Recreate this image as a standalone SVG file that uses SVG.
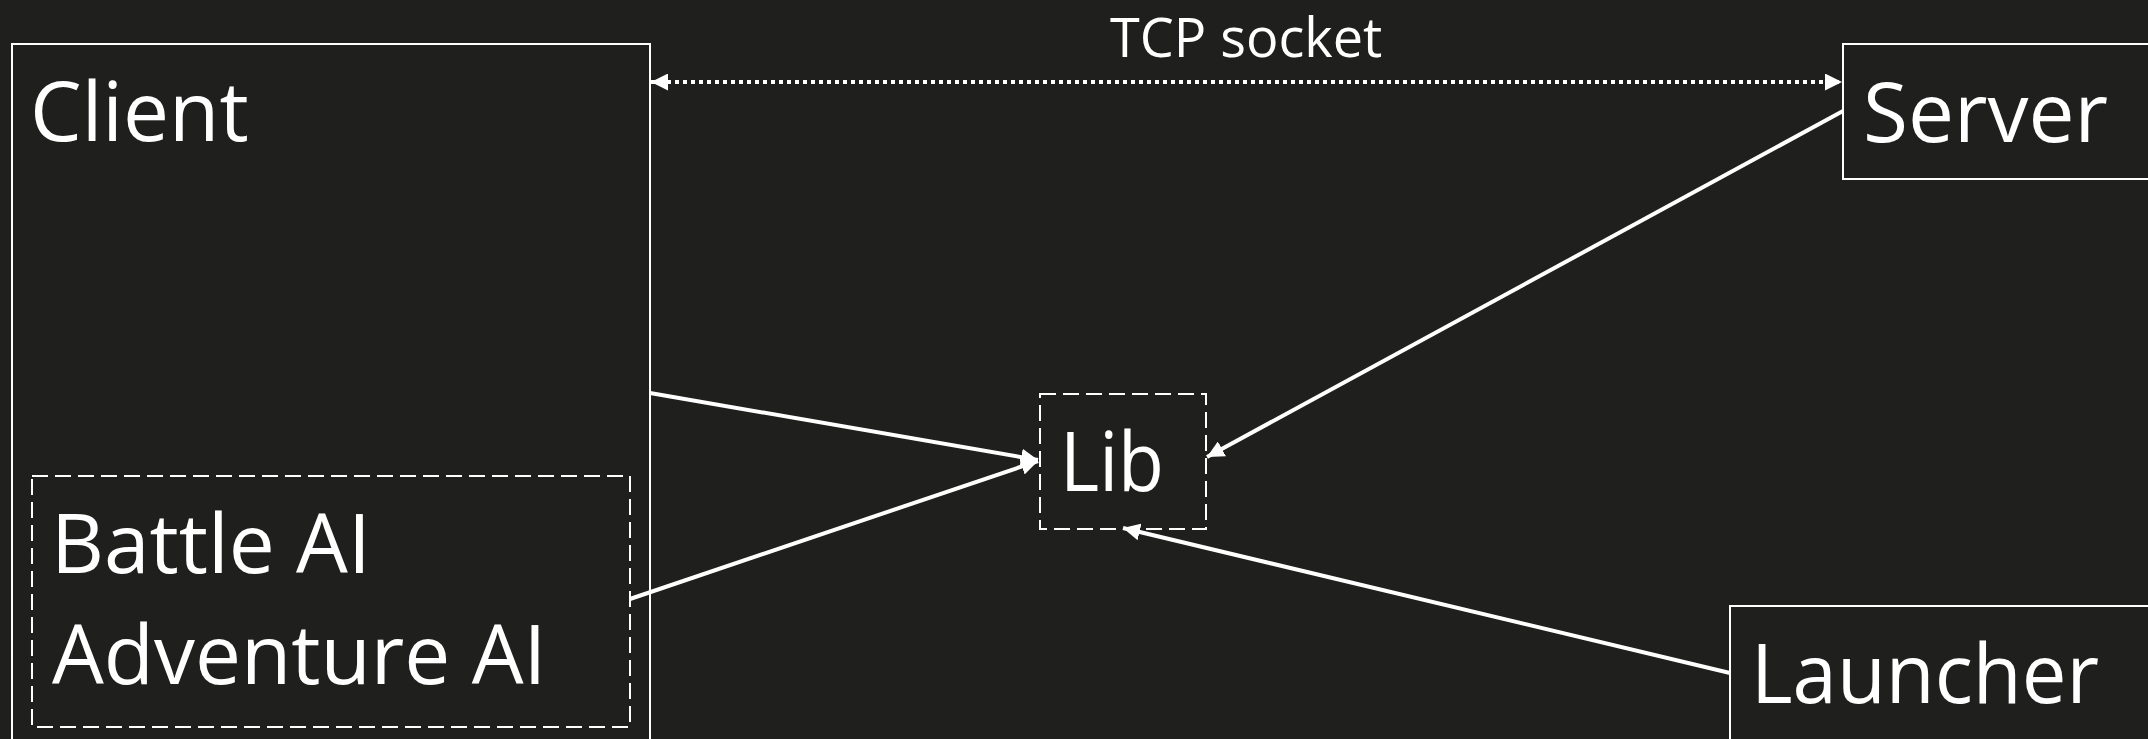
<svg xmlns="http://www.w3.org/2000/svg" width="2148" height="739" viewBox="0 0 2148 739">
  <defs>
    <marker id="arrow" viewBox="0 0 16 16" markerWidth="17" markerHeight="17" refX="16" refY="8" markerUnits="userSpaceOnUse" orient="auto-start-reverse">
      <path d="M0,0 L16,8 L0,16 z" fill="#ffffff"/>
    </marker>
    <style>
      .bg { fill: #1f1f1e; }
      .box { fill: none; stroke: #ffffff; stroke-width: 2; }
      .dbox { fill: none; stroke: #ffffff; stroke-width: 2; stroke-dasharray: 16 7; }
      .lbl { font-family: "Open Sans", "Liberation Sans", sans-serif; fill: #ffffff; font-size: 82px; }
      .small { font-size: 54px; }
      .conn { fill: none; stroke: #ffffff; stroke-width: 4; marker-end: url(#arrow); }
      .dotted { stroke-dasharray: 4 4; marker-start: url(#arrow); }
    </style>
  </defs>
  <rect class="bg" x="0" y="0" width="2148" height="739"/>

  <g id="client">
    <rect class="box" x="12" y="44" width="638" height="720"/>
    <text class="lbl" x="30" y="141">Client</text>
  </g>

  <g id="ai">
    <rect class="dbox" x="32" y="476" width="598" height="251"/>
    <text class="lbl" x="51" y="573">Battle AI</text>
    <text class="lbl" x="52" y="684">Adventure AI</text>
  </g>

  <g id="server">
    <rect class="box" x="1843" y="44" width="340" height="135"/>
    <text class="lbl" x="1863" y="142">Server</text>
  </g>

  <g id="lib">
    <rect class="dbox" x="1040" y="394" width="166" height="135"/>
    <text class="lbl" x="1060" y="491" textLength="104" lengthAdjust="spacingAndGlyphs">Lib</text>
  </g>

  <g id="launcher">
    <rect class="box" x="1730" y="606" width="450" height="160"/>
    <text class="lbl" x="1751" y="703" textLength="348" lengthAdjust="spacingAndGlyphs">Launcher</text>
  </g>

  <text class="lbl small" x="1110" y="57">TCP socket</text>

  <g id="connectors">
    <path class="conn dotted" d="M651,82 L1842,82"/>
    <path class="conn" d="M650,393 L1038,460"/>
    <path class="conn" d="M630,599 L1038,461"/>
    <path class="conn" d="M1843,111 L1207,457"/>
    <path class="conn" d="M1730,673 L1123,528"/>
  </g>
</svg>
